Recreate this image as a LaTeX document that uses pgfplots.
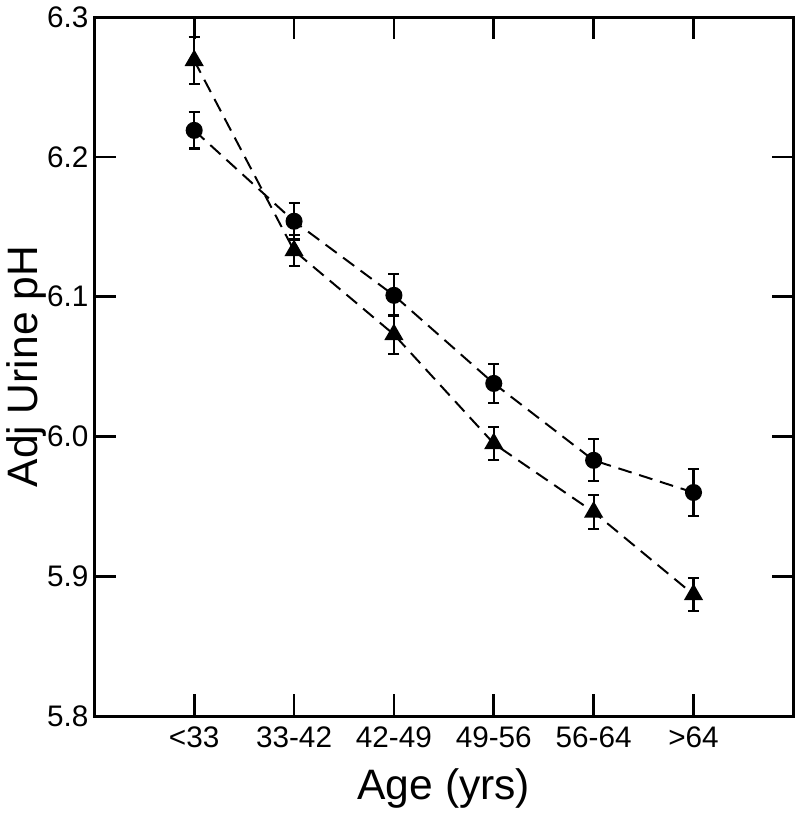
\documentclass[border=0pt]{standalone}
\usepackage{pgfplots}
\pgfplotsset{compat=1.18}
\usepackage{pgfplotstable}
\usepackage{fontspec}
\setmainfont{Liberation Sans}
\pgfplotstableread{
x y e
0 6.219 0.013
1 6.154 0.013
2 6.101 0.015
3 6.038 0.014
4 5.983 0.015
5 5.960 0.017
}\circdata
\pgfplotstableread{
x y e
0 6.269 0.017
1 6.133 0.011
2 6.073 0.014
3 5.995 0.012
4 5.946 0.012
5 5.887 0.012
}\tridata
\begin{document}
\begin{tikzpicture}
\begin{axis}[
  scale only axis,
  width=353pt, height=353pt,
  xmin=-1, xmax=6,
  ymin=5.8, ymax=6.3,
  xtick={0,1,2,3,4,5},
  xticklabels={<33,33-42,42-49,49-56,56-64,>64},
  ytick={5.8,5.9,6.0,6.1,6.2,6.3},
  yticklabel style={xshift=0.5pt, /pgf/number format/.cd,fixed,fixed zerofill,precision=1},
  /pgf/number format/assume math mode=true,
  tick align=inside,
  major tick length=11pt,
  tick style={line width=1.4pt, black},
  axis line style={line width=1.4pt},
  ticklabel style={font=\fontsize{15}{17}\selectfont},
  xlabel={Age (yrs)},
  ylabel={Adj Urine pH},
  label style={font=\fontsize{21.5}{24}\selectfont},
  xlabel style={yshift=-3.5pt},
  ylabel style={yshift=-6.5pt},
  xticklabel style={yshift=-2pt},
  clip=false,
]
\addplot[black, line width=1pt, dash pattern=on 7pt off 4pt,
  mark=*, mark size=3.8pt, mark options={solid},
  error bars/.cd, y dir=both, y explicit,
  error bar style={line width=1.1pt, solid},
  error mark options={rotate=90, mark size=2.8pt, line width=1.1pt, solid}]
  table[x=x, y=y, y error=e]{\circdata};
\addplot[black, line width=1pt, dash pattern=on 7pt off 4pt,
  mark=triangle*, mark size=4.6pt, mark options={solid},
  error bars/.cd, y dir=both, y explicit,
  error bar style={line width=1.1pt, solid},
  error mark options={rotate=90, mark size=2.8pt, line width=1.1pt, solid}]
  table[x=x, y=y, y error=e]{\tridata};
\end{axis}
\end{tikzpicture}
\end{document}
